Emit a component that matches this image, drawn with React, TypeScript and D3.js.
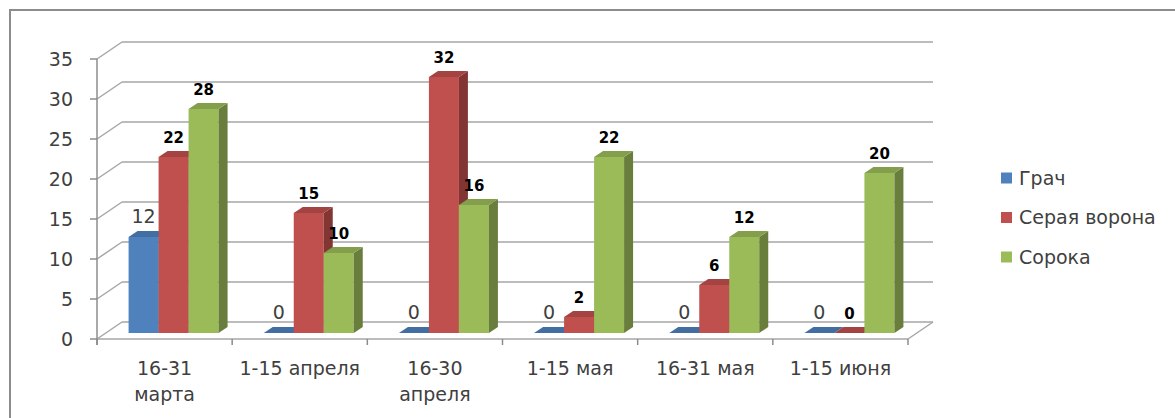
import React from 'react';
import * as d3 from 'd3';

const categories = ['16-31\nмарта', '1-15 апреля', '16-30\nапреля', '1-15 мая', '16-31 мая', '1-15 июня'];
const seriesNames = ['Грач', 'Серая ворона', 'Сорока'];
const grach = [12, 0, 0, 0, 0, 0];
const seraya = [22, 15, 32, 2, 6, 0];
const soroka = [28, 10, 16, 22, 12, 20];
const yTicks = [0, 5, 10, 15, 20, 25, 30, 35];
const colors = ['#4F81BD', '#C0504D', '#9BBB59'];

const font = 'DejaVu Sans, sans-serif';

const App = () => {
    const width = 1175;
    const height = 418;

    // front plane of the floor and the 3d depth offsets
    const left = 97;
    const right = 908;
    const wall = { dx: 25, dy: -17 };
    const barShift = { dx: 9, dy: -6 };
    const barDepth = { dx: 9, dy: -6 };

    const y = d3.scaleLinear().domain([0, 35]).range([339, 59]);
    const x = d3.scaleBand().domain(categories).range([left, right]);
    const inner = d3.scaleBand().domain(seriesNames).range([-45, 45]);

    const values = [grach, seraya, soroka];
    const pts = (p) => p.map((q) => q.join(',')).join(' ');

    return (
        <svg width={width} height={height} style={{ position: 'absolute', left: 0, top: 0, background: '#fff' }}>
            {/* outer frame */}
            <rect x={10} y={10} width={1300} height={600} fill="none" stroke="#8c8c8c" strokeWidth={2} />

            {/* back wall gridlines and side diagonals */}
            {yTicks.map((t) => (
                <g key={t}>
                    <line x1={left + wall.dx} x2={right + wall.dx} y1={y(t) + wall.dy} y2={y(t) + wall.dy} stroke="#a6a6a6" strokeWidth={1.5} />
                    <line x1={left} x2={left + wall.dx} y1={y(t)} y2={y(t) + wall.dy} stroke="#a6a6a6" strokeWidth={1.5} />
                    <line x1={left - 7} x2={left} y1={y(t)} y2={y(t)} stroke="#8c8c8c" strokeWidth={1.5} />
                    <text x={73} y={y(t)} dy="0.36em" textAnchor="end" fontFamily={font} fontSize={19} fill="#404040">{t}</text>
                </g>
            ))}

            {/* floor front edge and right diagonal */}
            <line x1={left} x2={right} y1={y(0)} y2={y(0)} stroke="#a6a6a6" strokeWidth={1.5} />
            <line x1={right} x2={right + wall.dx} y1={y(0)} y2={y(0) + wall.dy} stroke="#a6a6a6" strokeWidth={1.5} />
            <line x1={left} x2={left} y1={y(35)} y2={y(0) + 6} stroke="#8c8c8c" strokeWidth={1.5} />

            {/* category ticks */}
            {[...categories.map((c) => x(c)), right].map((px, i) => (
                <line key={i} x1={px} x2={px} y1={y(0)} y2={y(0) + 6} stroke="#8c8c8c" strokeWidth={1.5} />
            ))}

            {/* bars */}
            {categories.map((c, ci) => (
                <g key={c}>
                    {seriesNames.map((s, si) => {
                        const v = values[si][ci];
                        const x0 = x(c) + x.bandwidth() / 2 + inner(s) + barShift.dx;
                        const x1 = x0 + inner.bandwidth();
                        const base = y(0) + barShift.dy;
                        const top = y(v) + barShift.dy;
                        const col = d3.color(colors[si]);
                        return (
                            <g key={s}>
                                <rect x={x0} y={top} width={x1 - x0} height={base - top} fill={colors[si]} />
                                <polygon points={pts([[x1, top], [x1 + barDepth.dx, top + barDepth.dy], [x1 + barDepth.dx, base + barDepth.dy], [x1, base]])} fill={col.darker(1.1).toString()} />
                                <polygon points={pts([[x0, top], [x0 + barDepth.dx, top + barDepth.dy], [x1 + barDepth.dx, top + barDepth.dy], [x1, top]])} fill={col.darker(0.45).toString()} />
                            </g>
                        );
                    })}
                </g>
            ))}

            {/* data labels */}
            {categories.map((c, ci) =>
                seriesNames.map((s, si) => {
                    const v = values[si][ci];
                    const cx = x(c) + x.bandwidth() / 2 + inner(s) + barShift.dx + inner.bandwidth() / 2;
                    const first = si === 0;
                    return (
                        <text key={c + s} x={cx} y={y(v) + barShift.dy - 14} textAnchor="middle" fontFamily={font}
                            fontSize={first ? 19 : 15} fontWeight={first ? 'normal' : 'bold'} fill={first ? '#404040' : '#000'}>
                            {v}
                        </text>
                    );
                })
            )}

            {/* category labels */}
            {categories.map((c) => (
                <text key={c} x={x(c) + x.bandwidth() / 2} y={375} textAnchor="middle" fontFamily={font} fontSize={19} fill="#404040">
                    {c.split('\n').map((line, i) => (
                        <tspan key={i} x={x(c) + x.bandwidth() / 2} dy={i === 0 ? 0 : 26}>{line}</tspan>
                    ))}
                </text>
            ))}

            {/* legend */}
            {seriesNames.map((s, i) => (
                <g key={s} transform={`translate(1001, ${178 + i * 39.5})`}>
                    <rect x={0} y={-5.5} width={11} height={11} fill={colors[i]} />
                    <text x={18} y={0} dy="0.36em" fontFamily={font} fontSize={19} fill="#404040">{s}</text>
                </g>
            ))}
        </svg>
    );
};

export default App;
